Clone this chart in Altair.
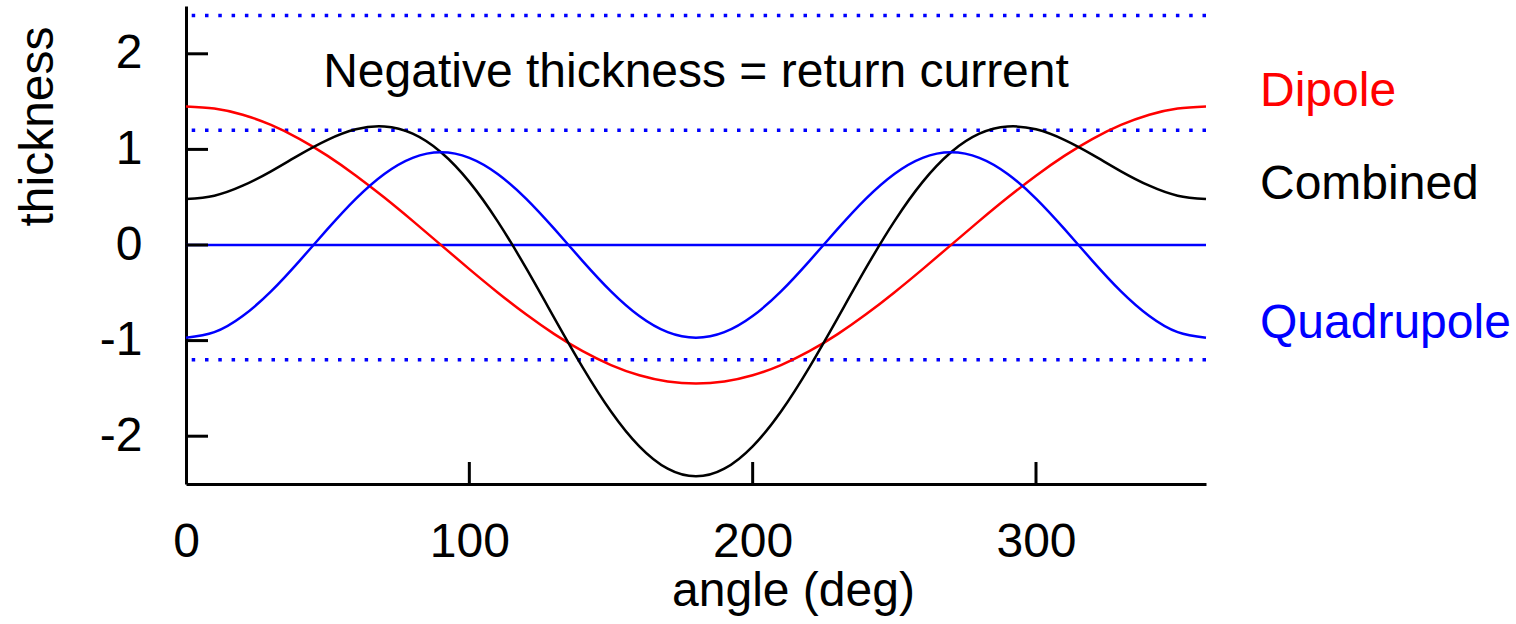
import altair as alt
import pandas as pd

# Angle samples (degrees) and the three thickness profiles
angle = [0, 10, 20, 30, 40, 50, 60, 70, 80, 90, 100, 110, 120, 130, 140, 150, 160, 170, 180,
         190, 200, 210, 220, 230, 240, 250, 260, 270, 280, 290, 300, 310, 320, 330, 340, 350, 360]

dipole = [1.45, 1.428, 1.363, 1.256, 1.111, 0.932, 0.725, 0.496, 0.252, 0.0,
          -0.252, -0.496, -0.725, -0.932, -1.111, -1.256, -1.363, -1.428, -1.45,
          -1.428, -1.363, -1.256, -1.111, -0.932, -0.725, -0.496, -0.252, 0.0,
          0.252, 0.496, 0.725, 0.932, 1.111, 1.256, 1.363, 1.428, 1.45]

quadrupole = [-0.97, -0.912, -0.743, -0.485, -0.168, 0.168, 0.485, 0.743, 0.912, 0.97,
              0.912, 0.743, 0.485, 0.168, -0.168, -0.485, -0.743, -0.912, -0.97,
              -0.912, -0.743, -0.485, -0.168, 0.168, 0.485, 0.743, 0.912, 0.97,
              0.912, 0.743, 0.485, 0.168, -0.168, -0.485, -0.743, -0.912, -0.97]

combined = [0.48, 0.516, 0.62, 0.771, 0.943, 1.1, 1.21, 1.239, 1.164, 0.97,
            0.66, 0.247, -0.24, -0.764, -1.279, -1.741, -2.106, -2.34, -2.42,
            -2.34, -2.106, -1.741, -1.279, -0.764, -0.24, 0.247, 0.66, 0.97,
            1.164, 1.239, 1.21, 1.1, 0.943, 0.771, 0.62, 0.516, 0.48]

series_names = ["Dipole", "Combined", "Quadrupole"]
series_colors = ["#ff0000", "#000000", "#0000ff"]

x_ticks = [100, 200, 300]
x_tick_labels = [0, 100, 200, 300]
y_ticks = [-2, -1, 0, 1, 2]
dotted_levels = [2.4, 1.2, -1.2]
zero_level = [0]

note_text = ["Negative thickness = return current"]
note_x = [180]
note_y = [1.65]

FONT = "Liberation Sans"
FS = 48
W, H = 1020, 478

rows = []
for name, vals in zip(series_names, [dipole, combined, quadrupole]):
    for a, v in zip(angle, vals):
        rows.append({"angle": a, "thickness": v, "series": name})
curves_df = pd.DataFrame(rows)

ends_df = pd.DataFrame({
    "series": series_names,
    "angle": [angle[-1]] * 3,
    "thickness": [dipole[-1], combined[-1], quadrupole[-1]],
})

xscale = alt.Scale(domain=[0, 360], nice=False, zero=False)
yscale = alt.Scale(domain=[-2.5, 2.5], nice=False, zero=False)
color = alt.Color("series:N", scale=alt.Scale(domain=series_names, range=series_colors), legend=None)

x_axis = alt.Axis(values=x_tick_labels, ticks=False, grid=False, labelFontSize=FS, labelFont=FONT,
                  labelColor="black", labelPadding=34, domainColor="black", domainWidth=3,
                  labelExpr="'' + datum.value",
                  title="angle (deg)", titleFont=FONT, titleFontSize=FS, titleFontWeight="normal",
                  titleColor="black", titleX=607, titleY=121, titleBaseline="alphabetic",
                  titleAlign="center", labelFlush=False)
y_axis = alt.Axis(values=y_ticks, ticks=False, grid=False, labelFontSize=FS, labelFont=FONT,
                  labelColor="black", labelPadding=44, domainColor="black", domainWidth=3,
                  labelExpr="'' + datum.value",
                  title="thickness", titleFont=FONT, titleFontSize=FS, titleFontWeight="normal",
                  titleColor="black", titleX=-134, titleY=120, titleBaseline="alphabetic",
                  titleAlign="center", labelFlush=False)

# Blue dotted reference levels
dotted = alt.Chart(pd.DataFrame({"level": dotted_levels})).mark_rule(
    color="#0000ff", strokeWidth=3.5, strokeDash=[3.5, 9.8]
).encode(y=alt.Y("level:Q", scale=yscale, axis=y_axis))

# Solid zero line
zero = alt.Chart(pd.DataFrame({"level": zero_level})).mark_rule(
    color="#0000ff", strokeWidth=2.5
).encode(y=alt.Y("level:Q", scale=yscale))

# Inward tick marks
xt = alt.Chart(pd.DataFrame({"v": x_ticks})).mark_rule(color="black", strokeWidth=3).encode(
    x=alt.X("v:Q", scale=xscale, axis=x_axis), y=alt.value(H), y2=alt.value(H - 22)
)
yt = alt.Chart(pd.DataFrame({"v": y_ticks})).mark_rule(color="black", strokeWidth=3).encode(
    y=alt.Y("v:Q", scale=yscale), x=alt.value(0), x2=alt.value(22)
)

curves = alt.Chart(curves_df).mark_line(strokeWidth=2.5, interpolate="natural").encode(
    x=alt.X("angle:Q", scale=xscale),
    y=alt.Y("thickness:Q", scale=yscale),
    color=color,
    detail="series:N",
)

labels = alt.Chart(ends_df).mark_text(
    align="left", baseline="alphabetic", dx=54, font=FONT, fontSize=FS
).encode(
    x=alt.X("angle:Q", scale=xscale),
    y=alt.Y("thickness:Q", scale=yscale),
    text="series:N",
    color=color,
)

note = alt.Chart(pd.DataFrame({"t": note_text, "x": note_x, "y": note_y})).mark_text(
    align="center", baseline="alphabetic", font=FONT, fontSize=FS, color="black"
).encode(
    x=alt.X("x:Q", scale=xscale),
    y=alt.Y("y:Q", scale=yscale),
    text="t:N",
)

chart = alt.layer(dotted, zero, xt, yt, curves, labels, note).properties(
    width=W, height=H,
    autosize=alt.AutoSizeParams(type="none"),
    padding={"left": 186, "top": 6, "right": 310, "bottom": 140},
).configure(background="white").configure_view(stroke=None)

chart.save("out.html", embed_options={"renderer": "svg", "actions": False})
